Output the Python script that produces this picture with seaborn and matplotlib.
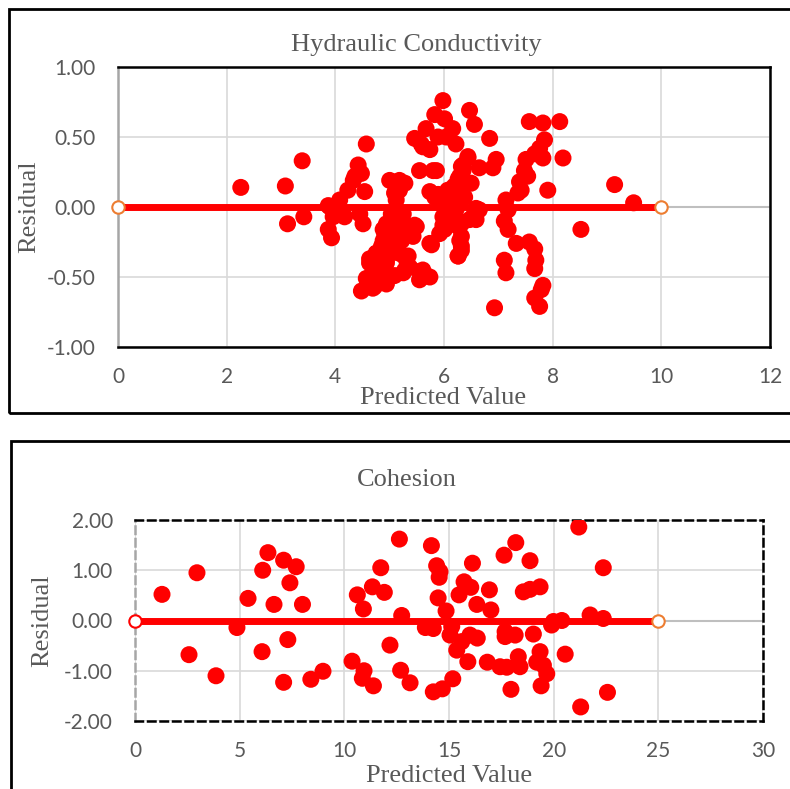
import matplotlib
matplotlib.use("Agg")
import matplotlib.pyplot as plt
import seaborn as sns
import numpy as np
import pandas as pd
from matplotlib.patches import Rectangle

# ---------------- data ----------------
hc_pred = [2.26, 3.08, 3.12, 3.39, 3.42, 3.90, 3.87, 3.93, 3.96, 4.08, 4.14, 4.23, 4.33,
           4.42, 4.48, 4.54, 4.57, 4.51, 4.45, 4.48, 4.63, 4.72, 4.94, 4.63, 4.76, 4.88,
           5.12, 4.36, 3.87, 3.99, 4.17, 5.28, 5.18, 5.12, 5.03, 5.25, 4.94, 4.91, 5.12,
           5.28, 5.49, 5.43, 4.85, 5.00, 5.22, 5.74, 4.69, 4.88, 5.18, 5.34, 4.94, 5.28,
           4.79, 5.55, 5.61, 5.74, 5.55, 4.69, 5.09, 5.98, 5.83, 5.67, 5.46, 5.58, 5.74,
           5.89, 5.80, 5.55, 5.74, 5.89, 5.92, 6.01, 6.47, 6.56, 6.01, 6.16, 6.04, 6.22,
           6.84, 7.57, 7.82, 8.13, 7.85, 7.76, 7.67, 7.82, 8.19, 7.51, 6.44, 6.35, 6.65,
           6.96, 6.90, 7.48, 7.54, 7.39, 7.42, 7.91, 7.36, 6.26, 6.19, 6.16, 6.07, 5.98,
           6.38, 6.50, 7.14, 6.59, 7.18, 6.53, 6.22, 5.98, 7.11, 7.18, 6.26, 6.32, 6.32,
           6.26, 7.33, 7.57, 7.67, 7.11, 7.69, 7.67, 7.14, 7.82, 7.79, 7.67, 7.76, 6.93,
           9.14, 9.49, 8.52, 5.61, 6.29, 6.32, 6.47, 5.00,
           5.18, 5.09, 5.12, 4.97, 5.18, 4.88, 5.06, 4.75, 4.94, 4.63, 5.18, 5.31, 5.37,
           4.57, 4.88, 5.25, 5.46, 5.77, 5.61, 6.44, 6.35, 6.29, 6.19, 6.13, 6.22, 5.98,
           6.01, 6.32, 6.29, 6.32, 6.26, 6.65, 6.59, 5.83, 5.86]
hc_resid = [0.14, 0.15, -0.12, 0.33, -0.07, 0.00, -0.16, -0.22, -0.07, 0.05, -0.05, 0.12, 0.19,
            0.30, 0.24, 0.11, 0.45, -0.12, -0.05, -0.60, -0.51, -0.57, -0.55, -0.40, -0.33, -0.16,
            0.17, 0.22, 0.01, -0.06, -0.07, 0.17, 0.12, 0.05, -0.05, -0.05, -0.12, -0.19, -0.16,
            -0.14, -0.14, -0.21, -0.28, -0.26, -0.24, -0.26, -0.37, -0.35, -0.33, -0.35, -0.40, -0.45,
            -0.45, -0.46, -0.50, -0.50, -0.52, -0.58, -0.49, 0.76, 0.66, 0.56, 0.49, 0.45, 0.41,
            0.50, 0.26, 0.26, 0.11, 0.09, -0.19, -0.09, 0.69, 0.59, 0.63, 0.56, 0.50, 0.45,
            0.49, 0.61, 0.60, 0.61, 0.48, 0.42, 0.38, 0.35, 0.35, 0.34, 0.35, 0.30, 0.28,
            0.34, 0.28, 0.26, 0.22, 0.18, 0.12, 0.12, 0.10, 0.20, 0.15, 0.07, 0.12, 0.05,
            0.07, 0.17, 0.05, -0.01, -0.02, -0.07, -0.08, -0.13, -0.10, -0.16, -0.14, -0.21, -0.28,
            -0.35, -0.26, -0.25, -0.30, -0.38, -0.38, -0.44, -0.47, -0.56, -0.59, -0.65, -0.71, -0.72,
            0.16, 0.03, -0.16, 0.43, 0.22, 0.29, -0.09, 0.19,
            0.19, 0.10, -0.05, -0.16, -0.19, -0.24, -0.28, -0.33, -0.38, -0.37, -0.33, -0.38, -0.43,
            -0.51, -0.50, -0.47, -0.13, -0.27, -0.45, 0.36, 0.26, 0.17, 0.10, 0.03, -0.02, -0.07,
            -0.16, -0.12, -0.24, -0.31, -0.35, -0.02, -0.09, 0.07, 0.26]

co_pred = [1.29, 2.96, 2.58, 3.87, 4.87, 5.40, 6.07, 6.10, 6.35, 6.64, 7.10, 7.40, 7.70, 7.30,
           7.10, 8.00, 8.40, 8.98, 12.63, 14.16, 11.74, 10.62, 11.34, 11.91, 10.91, 12.74, 14.41,
           14.57, 14.53, 14.48, 14.86, 13.87, 14.25, 15.05, 12.18, 10.37, 10.94, 10.86, 11.39,
           12.69, 13.14, 14.25, 14.68, 15.18, 16.12, 15.72, 16.04, 15.48, 16.33, 17.00, 16.93,
           17.63, 18.19, 15.37, 15.61, 16.00, 16.35, 15.90, 16.83, 17.44, 17.76, 17.68, 17.96,
           18.31, 21.20, 18.87, 22.37, 18.55, 18.87, 19.35, 19.99, 20.39, 21.74, 22.37, 17.68,
           18.16, 19.03, 19.35, 20.55, 18.39, 19.19, 19.51, 19.67, 19.40, 21.29, 22.57, 15.13,
           19.90]
co_resid = [0.52, 0.95, -0.68, -1.10, -0.14, 0.44, -0.62, 1.00, 1.35, 0.32, 1.20, 0.75, 1.07, -0.38,
            -1.23, 0.32, -1.17, -1.01, 1.62, 1.49, 1.05, 0.51, 0.67, 0.56, 0.23, 0.10, 1.09,
            0.97, 0.86, 0.45, 0.19, -0.14, -0.16, -0.29, -0.49, -0.81, -1.00, -1.15, -1.30,
            -0.99, -1.24, -1.42, -1.36, -1.16, 1.14, 0.77, 0.66, 0.51, 0.32, 0.21, 0.61,
            1.30, 1.55, -0.59, -0.42, -0.29, -0.35, -0.82, -0.83, -0.92, -0.93, -0.32, -1.37,
            -0.72, 1.86, 1.19, 1.05, 0.57, 0.62, 0.67, -0.02, 0.00, 0.11, 0.04, -0.22,
            -0.29, -0.27, -0.62, -0.67, -0.92, -0.83, -0.89, -1.06, -1.30, -1.72, -1.43, -0.12,
            -0.09]

hc_line_x = [0, 10]
hc_line_y = [0, 0]
co_line_x = [0, 25]
co_line_y = [0, 0]

hc_xticks = [0, 2, 4, 6, 8, 10, 12]
hc_yticks = [-1.0, -0.5, 0.0, 0.5, 1.0]
co_xticks = [0, 5, 10, 15, 20, 25, 30]
co_yticks = [-2.0, -1.0, 0.0, 1.0, 2.0]

# ---------------- style ----------------
sns.set_theme(style="white")
plt.rcParams['font.family'] = ['Lato', 'DejaVu Sans']

W, H = 790, 789
fig = plt.figure(figsize=(W / 100, H / 100), dpi=100)

TXT = '#595959'
RED = '#FF0000'
ORANGE = '#ED7D31'
GRID = '#D9D9D9'
SERIF = ['Liberation Serif', 'DejaVu Serif']


def px_axes(x0, y0, x1, y1):
    return fig.add_axes([x0 / W, 1 - y1 / H, (x1 - x0) / W, (y1 - y0) / H])


# outer chart borders
fig.add_artist(Rectangle((9 / W, 1 - 413 / H), (795 - 9) / W, (413 - 9) / H,
                         transform=fig.transFigure, fill=False, edgecolor='black', lw=2))
fig.add_artist(Rectangle((11 / W, 1 - 800 / H), (795 - 11) / W, (800 - 441) / H,
                         transform=fig.transFigure, fill=False, edgecolor='black', lw=2))


def draw_panel(ax, xs, ys, lx, ly, xticks, yticks, fmt_y, left_marker_color, dashed):
    ax.set_xlim(xticks[0], xticks[-1])
    ax.set_ylim(yticks[0], yticks[-1])
    ax.set_xticks(xticks)
    ax.set_yticks(yticks)
    ax.set_xticklabels([str(t) for t in xticks])
    ax.set_yticklabels([fmt_y.format(t) for t in yticks])
    ax.grid(True, color=GRID, lw=1.2, zorder=0)
    ax.set_axisbelow(True)
    ax.axhline(0, color='#BFBFBF', lw=1.5, zorder=1)
    ax.tick_params(axis='both', length=0, labelsize=15, labelcolor=TXT)
    ax.tick_params(axis='x', pad=14.5)
    ax.tick_params(axis='y', pad=16)
    df = pd.DataFrame({'x': xs, 'y': ys})
    sns.scatterplot(data=df, x='x', y='y', ax=ax, color=RED, s=150,
                    edgecolor='none', linewidth=0, zorder=3, legend=False)
    ldf = pd.DataFrame({'x': lx, 'y': ly})
    sns.lineplot(data=ldf, x='x', y='y', ax=ax, color=RED, lw=5,
                 zorder=4, legend=False, solid_capstyle='butt')
    ax.scatter([lx[0]], [ly[0]], s=80, facecolor='white', edgecolor=left_marker_color,
               linewidths=1.5, zorder=5, clip_on=False)
    ax.scatter([lx[-1]], [ly[-1]], s=80, facecolor='white', edgecolor=ORANGE,
               linewidths=1.5, zorder=5, clip_on=False)
    ax.set_xlabel('')
    ax.set_ylabel('')
    for side in ['top', 'right', 'bottom']:
        ax.spines[side].set_color('black')
        ax.spines[side].set_linewidth(1.8)
        if dashed:
            ax.spines[side].set_linestyle((0, (3, 2)))
    ax.spines['left'].set_color('#A6A6A6')
    ax.spines['left'].set_linewidth(1.8)
    if dashed:
        ax.spines['left'].set_linestyle((0, (3, 2)))


ax1 = px_axes(118, 67, 770, 347)
draw_panel(ax1, hc_pred, hc_resid, hc_line_x, hc_line_y, hc_xticks, hc_yticks,
           '{:.2f}', ORANGE, False)

ax2 = px_axes(135, 520, 763, 721)
draw_panel(ax2, co_pred, co_resid, co_line_x, co_line_y, co_xticks, co_yticks,
           '{:.2f}', RED, True)

# titles and axis labels
FS = 19
fig.text(416 / W, 1 - 51 / H, 'Hydraulic Conductivity', ha='center', va='baseline',
         fontsize=FS, color=TXT, family=SERIF)
fig.text(443.5 / W, 1 - 404 / H, 'Predicted Value', ha='center', va='baseline',
         fontsize=FS, color=TXT, family=SERIF)
fig.text(29 / W, 1 - 207 / H, 'Residual', ha='center', va='center', rotation=90,
         fontsize=FS, color=TXT, family=SERIF)

fig.text(407 / W, 1 - 486 / H, 'Cohesion', ha='center', va='baseline',
         fontsize=FS, color=TXT, family=SERIF)
fig.text(449 / W, 1 - 782 / H, 'Predicted Value', ha='center', va='baseline',
         fontsize=FS, color=TXT, family=SERIF)
fig.text(42 / W, 1 - 621 / H, 'Residual', ha='center', va='center', rotation=90,
         fontsize=FS, color=TXT, family=SERIF)

fig.savefig('out.png', dpi=100)
